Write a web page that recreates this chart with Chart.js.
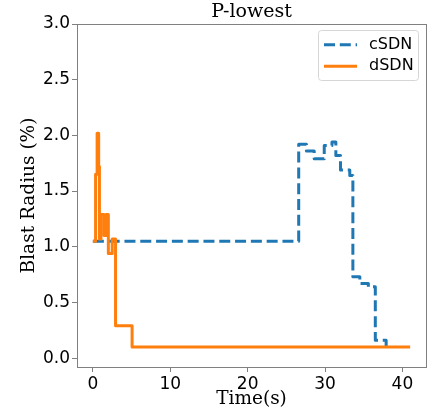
<!DOCTYPE html>
<html>
<head>
<meta charset="utf-8">
<script src="https://cdn.jsdelivr.net/npm/chart.js@4"></script>
<style>
    html, body { margin: 0; padding: 0; background: #fff; }
    #wrap { width: 435px; height: 413px; position: relative; }
</style>
</head>
<body>
<div id="wrap"><canvas id="blastChart"></canvas></div>
<script>
// --- Data ---
const cTime   = [0, 26.6, 27.6, 28.6, 29.9, 30.9, 31.4, 32.0, 33.2, 33.6, 34.5, 35.6, 36.5, 37.9];
const cRadius = [1.05, 1.92, 1.86, 1.79, 1.91, 1.94, 1.82, 1.69, 1.64, 0.73, 0.67, 0.64, 0.16, 0.10];

const dTime   = [0, 0.35, 0.55, 0.75, 0.85, 1.05, 1.45, 1.7, 2.0, 2.5, 2.93, 5.07, 41.0];
const dRadius = [1.05, 1.65, 2.02, 1.72, 1.07, 1.29, 1.10, 1.29, 0.94, 1.07, 0.29, 0.10, 0.10];

const xTicks = [0, 10, 20, 30, 40];
const yTicks = [0, 0.5, 1.0, 1.5, 2.0, 2.5, 3.0];

const seriesNames = ['cSDN', 'dSDN'];
const titleText = 'P-lowest';
const xLabel = 'Time(s)';
const yLabel = 'Blast Radius (%)';

const BLUE = '#1f77b4';
const ORANGE = '#ff7f0e';
const SPINE = '#808080';
const SANS = '"DejaVu Sans", sans-serif';
const SERIF = '"DejaVu Serif", serif';

const toPoints = (xs, ys) => xs.map((x, i) => ({ x: x, y: ys[i] }));

// --- Frame, titles and legend drawn matplotlib style ---
const decorPlugin = {
    id: 'decor',
    afterDraw(chart) {
        const ctx = chart.ctx;
        const a = chart.chartArea;
        ctx.save();

        // spines
        ctx.strokeStyle = SPINE;
        ctx.lineWidth = 1;
        ctx.strokeRect(Math.round(a.left) + 0.5, Math.round(a.top) + 0.5,
            Math.round(a.right - a.left), Math.round(a.bottom - a.top));

        const cx = (a.left + a.right) / 2;

        // title and axis labels
        ctx.fillStyle = '#000';
        ctx.textAlign = 'center';
        ctx.textBaseline = 'middle';
        ctx.font = '19px ' + SERIF;
        ctx.fillText(titleText, cx, 12.5);
        ctx.font = '18.5px ' + SERIF;
        ctx.fillText(xLabel, cx, 399.5);

        ctx.save();
        ctx.translate(29, (a.top + a.bottom) / 2);
        ctx.rotate(-Math.PI / 2);
        ctx.fillText(yLabel, 0, 0);
        ctx.restore();

        // legend
        const lx = 318.5, ly = 30.5, lw = 100, lh = 50;
        ctx.beginPath();
        ctx.roundRect(lx, ly, lw, lh, 3);
        ctx.fillStyle = 'rgba(255,255,255,0.8)';
        ctx.fill();
        ctx.strokeStyle = '#d6d6d6';
        ctx.lineWidth = 1;
        ctx.stroke();

        const rows = [44.7, 66.3];
        const colors = [BLUE, ORANGE];
        const dashes = [[11, 4.8], []];
        rows.forEach((y, i) => {
            ctx.beginPath();
            ctx.setLineDash(dashes[i]);
            ctx.strokeStyle = colors[i];
            ctx.lineWidth = 3;
            ctx.lineCap = 'butt';
            ctx.moveTo(324, y);
            ctx.lineTo(357, y);
            ctx.stroke();
            ctx.setLineDash([]);
            ctx.fillStyle = '#000';
            ctx.textAlign = 'left';
            ctx.font = '16px ' + SANS;
            ctx.fillText(seriesNames[i], 369, y);
        });

        ctx.restore();
    }
};

const ctx = document.getElementById('blastChart').getContext('2d');

new Chart(ctx, {
    type: 'line',
    data: {
        datasets: [{
            label: seriesNames[0],
            data: toPoints(cTime, cRadius),
            borderColor: BLUE,
            borderWidth: 3,
            borderDash: [11, 4.8],
            borderCapStyle: 'butt',
            borderJoinStyle: 'round',
            stepped: 'before',
            pointRadius: 0,
            fill: false,
            order: 2
        }, {
            label: seriesNames[1],
            data: toPoints(dTime, dRadius),
            borderColor: ORANGE,
            borderWidth: 3,
            borderCapStyle: 'butt',
            borderJoinStyle: 'round',
            stepped: 'before',
            pointRadius: 0,
            fill: false,
            order: 1
        }]
    },
    options: {
        responsive: true,
        maintainAspectRatio: false,
        animation: false,
        layout: { padding: { top: 24, right: 9, left: 0, bottom: 0 } },
        plugins: {
            legend: { display: false },
            title: { display: false },
            tooltip: { enabled: false }
        },
        scales: {
            x: {
                type: 'linear',
                min: -2.05,
                max: 43.05,
                afterBuildTicks: (s) => { s.ticks = xTicks.map(v => ({ value: v })); },
                afterFit: (s) => { s.height = 46; },
                grid: { drawOnChartArea: false, drawTicks: true, tickLength: 5, color: SPINE },
                border: { display: false },
                ticks: {
                    color: '#000',
                    font: { family: SANS, size: 17 },
                    padding: 2,
                    maxRotation: 0,
                    callback: (v) => String(v)
                }
            },
            y: {
                type: 'linear',
                min: -0.08,
                max: 3.0,
                afterBuildTicks: (s) => { s.ticks = yTicks.map(v => ({ value: v })); },
                afterFit: (s) => { s.width = 77; },
                grid: { drawOnChartArea: false, drawTicks: true, tickLength: 5, color: SPINE },
                border: { display: false },
                ticks: {
                    color: '#000',
                    font: { family: SANS, size: 17 },
                    padding: 2,
                    callback: (v) => v.toFixed(1)
                }
            }
        }
    },
    plugins: [decorPlugin]
});
</script>
</body>
</html>
